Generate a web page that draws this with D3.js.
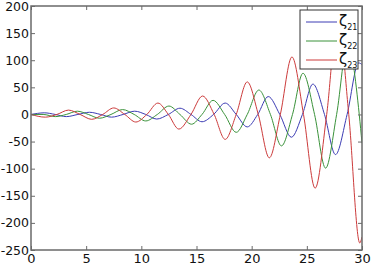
<!DOCTYPE html>
<html>
<head>
<meta charset="utf-8">
<script src="https://cdn.jsdelivr.net/npm/d3@7"></script>
<style>
  body { margin: 0; background: #fff; }
  svg { display: block; }
  .tick text { font-family: "DejaVu Sans", sans-serif; font-size: 13px; fill: #111; }
  .yaxis .tick text { font-size: 12.5px; }
</style>
</head>
<body>
<script>
const width = 371,
    height = 267;

// values (peaks, troughs and crossings)
const x21 = [0, 0.6, 1.2, 2.2, 3.2, 4.25, 5.3, 6.3, 7.3, 8.35, 9.4, 10.4, 11.4, 12.45, 13.5, 14.5, 15.5, 16.55, 17.6, 18.6, 19.6, 20.55, 21.5, 22.55, 23.6, 24.6, 25.55, 26.6, 27.6, 28.65, 29.7, 30];
const z21 = [0, 2, 3, 0, -4, 0, 4, 0, -5, 0, 6, 0, -8.5, 0, 11.5, 0, -13.5, 0, 21, 0, -23, 0, 33, 0, -42, 0, 56, 0, -74, 0, 95, 92];

const x22 = [0, 1.1, 2.2, 3.2, 4.2, 5.2, 6.2, 7.25, 8.3, 9.35, 10.4, 11.45, 12.5, 13.5, 14.55, 15.5, 16.5, 17.55, 18.6, 19.6, 20.65, 21.7, 22.7, 23.7, 24.65, 25.7, 26.7, 27.7, 28.7, 29.75, 30];
const z22 = [0, 0, -4, 0, 6, 0, -7, 0, 9, 0, -12, 0, 15.5, 0, -18, 0, 26, 0, -33, 0, 45, 0, -58, 0, 76, 0, -99, 0, 130, 0, -53];

const x23 = [0, 1.3, 2.35, 3.4, 4.45, 5.5, 6.5, 7.5, 8.5, 9.5, 10.5, 11.5, 12.45, 13.4, 14.5, 15.55, 16.6, 17.6, 18.6, 19.6, 20.6, 21.6, 22.6, 23.65, 24.7, 25.75, 26.8, 27.8, 28.8, 29.8, 30];
const z23 = [0, -5, 0, 8, 0, -9, 0, 12, 0, -14, 0, 21, 0, -27, 0, 34, 0, -46, 0, 60, 0, -80, 0, 106, 0, -136, 0, 178, 0, -237, -226];

const xTicks = [0, 5, 10, 15, 20, 25, 30];
const yTicks = [-250, -200, -150, -100, -50, 0, 50, 100, 150, 200];

const seriesNames = ["21", "22", "23"];
const seriesColors = ["#3c3cb4", "#3a923a", "#cc3b3b"];
const seriesX = [x21, x22, x23];
const seriesZ = [z21, z22, z23];

const plotLeft = 31, plotRight = 362, plotTop = 6, plotBottom = 250;

const x = d3.scaleLinear().domain([0, 30]).range([plotLeft, plotRight]);
const y = d3.scaleLinear().domain([-250, 200]).range([plotBottom, plotTop]);

const svg = d3.select('body')
    .append('svg')
    .attr('width', width)
    .attr('height', height);

svg.append('defs').append('clipPath')
    .attr('id', 'plot')
    .append('rect')
    .attr('x', plotLeft)
    .attr('y', plotTop)
    .attr('width', plotRight - plotLeft)
    .attr('height', plotBottom - plotTop);

const line = d3.line()
    .x(d => x(d[0]))
    .y(d => y(d[1]))
    .curve(d3.curveMonotoneX);

const lines = svg.append('g').attr('clip-path', 'url(#plot)');
seriesNames.forEach(function (name, i) {
    const pts = seriesX[i].map((t, j) => [t, seriesZ[i][j]]);
    lines.append('path')
        .attr('d', line(pts))
        .attr('fill', 'none')
        .attr('stroke', seriesColors[i])
        .attr('stroke-width', 1);
});

// axes, ticks pointing inwards
function styleAxis(g) {
    g.select('.domain').remove();
    g.selectAll('.tick line').attr('stroke', '#6a6a6a').attr('stroke-width', 1);
}

const plain = d => String(d);

svg.append('g')
    .attr('transform', 'translate(0,' + plotBottom + ')')
    .call(d3.axisBottom(x).tickValues(xTicks).tickSize(-4).tickPadding(4).tickFormat(plain))
    .call(styleAxis);

svg.append('g')
    .attr('transform', 'translate(0,' + plotTop + ')')
    .call(d3.axisTop(x).tickValues(xTicks).tickSize(-4).tickFormat(''))
    .call(styleAxis);

svg.append('g')
    .attr('class', 'yaxis')
    .attr('transform', 'translate(' + plotLeft + ',0)')
    .call(d3.axisLeft(y).tickValues(yTicks).tickSize(-4).tickPadding(2).tickFormat(plain))
    .call(styleAxis);

svg.append('g')
    .attr('transform', 'translate(' + plotRight + ',0)')
    .call(d3.axisRight(y).tickValues(yTicks).tickSize(-4).tickFormat(''))
    .call(styleAxis);

svg.append('rect')
    .attr('x', plotLeft)
    .attr('y', plotTop)
    .attr('width', plotRight - plotLeft)
    .attr('height', plotBottom - plotTop)
    .attr('fill', 'none')
    .attr('stroke', '#6a6a6a')
    .attr('stroke-width', 1.5);

// legend
const legend = svg.append('g').attr('transform', 'translate(300,10)');
legend.append('rect')
    .attr('width', 58)
    .attr('height', 59)
    .attr('fill', '#fff')
    .attr('stroke', '#333')
    .attr('stroke-width', 1);

seriesNames.forEach(function (name, i) {
    const ly = 12 + i * 19;
    legend.append('line')
        .attr('x1', 6).attr('x2', 37)
        .attr('y1', ly).attr('y2', ly)
        .attr('stroke', seriesColors[i])
        .attr('stroke-width', 1);
    const t = legend.append('text')
        .attr('x', 39)
        .attr('y', ly + 4)
        .style('font-family', '"DejaVu Sans", sans-serif')
        .style('font-size', '15px')
        .style('fill', '#111');
    t.append('tspan').text('ζ');
    t.append('tspan')
        .attr('dy', 4)
        .style('font-size', '8px')
        .text(name);
});
</script>
</body>
</html>
